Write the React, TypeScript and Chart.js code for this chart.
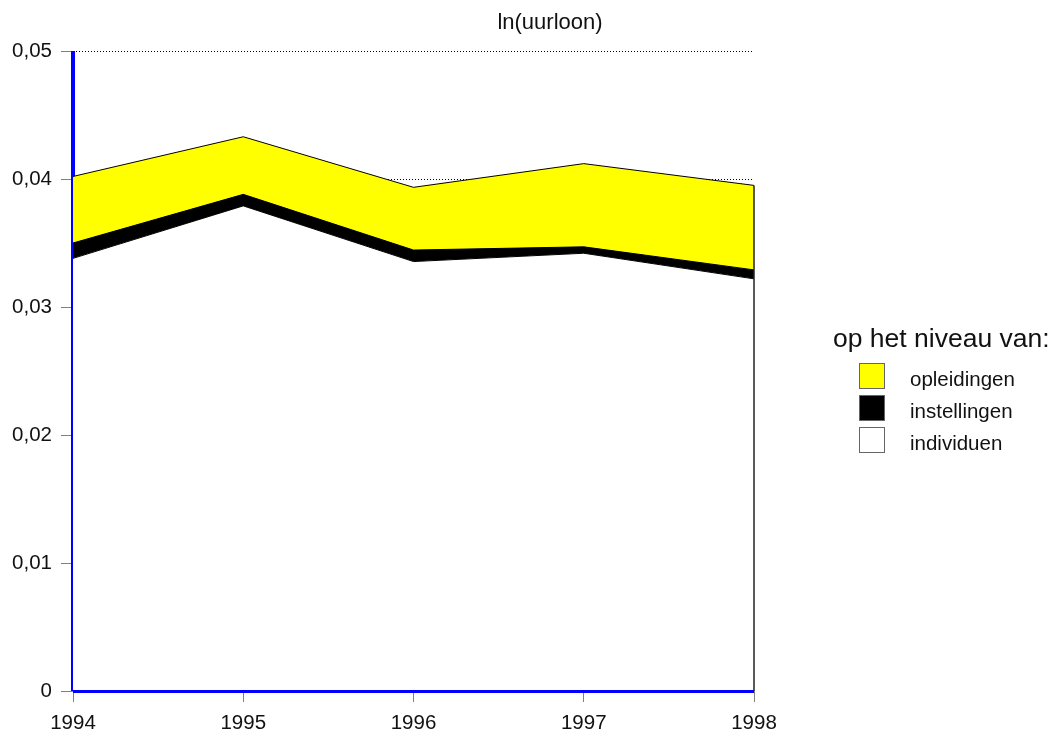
import React, { useEffect, useRef } from "react";
import { Chart, registerables } from "chart.js";

Chart.register(...registerables);

const years = ["1994", "1995", "1996", "1997", "1998"];
const individuen = [0.0338, 0.0379, 0.03355, 0.0342, 0.0322];
const instellingen = [0.0012, 0.0009, 0.0009, 0.0005, 0.0007];
const opleidingen = [0.0052, 0.0045, 0.0049, 0.0065, 0.0066];
const yMin = 0;
const yMax = 0.05;
const yStep = 0.01;

const chartTitle = "ln(uurloon)";
const legendTitle = "op het niveau van:";
const legendNames = ["opleidingen", "instellingen", "individuen"];
const legendColors = ["#ffff00", "#000000", "#ffffff"];

const FONT = "'Liberation Sans', Arial, sans-serif";

const W = 1054;
const H = 736;

const decorPlugin = {
  id: "decor",
  beforeDatasetsDraw(chart: any) {
    const { ctx, chartArea } = chart;
    ctx.save();
    ctx.strokeStyle = "#0000ff";
    ctx.lineWidth = 4;
    ctx.beginPath();
    ctx.moveTo(chartArea.left, chartArea.top);
    ctx.lineTo(chartArea.left, chartArea.bottom);
    ctx.stroke();
    ctx.restore();
  },
  afterDatasetsDraw(chart: any) {
    const { ctx, chartArea, scales } = chart;
    const xs = scales.x;
    const ys = scales.y;
    const last = years.length - 1;
    const topVal = individuen[last] + instellingen[last] + opleidingen[last];
    const x = xs.getPixelForValue(last);
    ctx.save();
    ctx.strokeStyle = "#222";
    ctx.lineWidth = 1.5;
    ctx.beginPath();
    ctx.moveTo(x, ys.getPixelForValue(topVal));
    ctx.lineTo(x, chartArea.bottom);
    ctx.stroke();
    ctx.strokeStyle = "#0000ff";
    ctx.lineWidth = 3;
    ctx.beginPath();
    ctx.moveTo(chartArea.left, chartArea.bottom + 0.5);
    ctx.lineTo(x, chartArea.bottom + 0.5);
    ctx.stroke();
    ctx.restore();
  },
  afterDraw(chart: any) {
    const { ctx } = chart;
    ctx.save();
    ctx.fillStyle = "#111";
    ctx.font = `22px ${FONT}`;
    ctx.textAlign = "center";
    ctx.textBaseline = "middle";
    ctx.fillText(chartTitle, 550, 23);
    ctx.restore();
  },
};

export default function App() {
  const canvasRef = useRef<HTMLCanvasElement | null>(null);

  useEffect(() => {
    const canvas = canvasRef.current;
    if (!canvas) return;
    const common = {
      pointRadius: 0,
      borderColor: "#000000",
      borderWidth: 1,
      tension: 0,
    };
    const chart = new Chart(canvas, {
      type: "line",
      data: {
        labels: years,
        datasets: [
          {
            label: legendNames[2],
            data: individuen,
            backgroundColor: legendColors[2],
            fill: "origin",
            ...common,
          },
          {
            label: legendNames[1],
            data: instellingen,
            backgroundColor: legendColors[1],
            fill: "-1",
            ...common,
          },
          {
            label: legendNames[0],
            data: opleidingen,
            backgroundColor: legendColors[0],
            fill: "-1",
            ...common,
          },
        ],
      },
      options: {
        responsive: false,
        animation: false,
        devicePixelRatio: 1,
        layout: { padding: { left: 0, top: 51, right: 300, bottom: 0 } },
        plugins: {
          legend: { display: false },
          title: { display: false },
          tooltip: { enabled: false },
        },
        scales: {
          x: {
            type: "category",
            offset: false,
            afterFit(scale: any) {
              scale.height = 45;
            },
            border: { display: false },
            grid: {
              display: true,
              drawOnChartArea: false,
              drawTicks: true,
              tickLength: 11,
              tickColor: "#808080",
              tickWidth: 1,
            },
            ticks: {
              color: "#111",
              font: { family: FONT, size: 20.5 },
              padding: 9,
              maxRotation: 0,
              autoSkip: false,
            },
          },
          y: {
            stacked: true,
            min: yMin,
            max: yMax,
            afterFit(scale: any) {
              scale.width = 73;
            },
            border: { display: false, dash: [1, 2], dashOffset: 0 },
            grid: {
              color: "#000000",
              lineWidth: 1,
              tickLength: 12,
              tickColor: "#808080",
              tickWidth: 1,
              tickBorderDash: [],
            } as any,
            ticks: {
              stepSize: yStep,
              color: "#111",
              font: { family: FONT, size: 20.5 },
              padding: 9,
              callback: (v: any) => {
                const n = Number(v);
                if (Math.abs(n) < 1e-9) return "0";
                return n.toFixed(2).replace(".", ",");
              },
            },
          },
        },
      } as any,
      plugins: [decorPlugin],
    });
    return () => chart.destroy();
  }, []);

  const legendTop = 363;
  const legendStep = 32;

  return (
    <div
      style={{
        position: "fixed",
        left: 0,
        top: 0,
        width: W,
        height: H,
        background: "#ffffff",
        fontFamily: FONT,
      }}
    >
      <canvas
        ref={canvasRef}
        width={W}
        height={H}
        style={{ position: "absolute", left: 0, top: 0, width: W, height: H }}
      />
      <div
        style={{
          position: "absolute",
          left: 833,
          top: 325,
          fontSize: 26.5,
          lineHeight: "26.5px",
          color: "#111",
          whiteSpace: "nowrap",
        }}
      >
        {legendTitle}
      </div>
      {legendNames.map((name, i) => (
        <React.Fragment key={name}>
          <div
            style={{
              position: "absolute",
              left: 859,
              top: legendTop + i * legendStep,
              width: 24,
              height: 24,
              background: legendColors[i],
              border: "1px solid #666",
            }}
          />
          <div
            style={{
              position: "absolute",
              left: 910,
              top: 368.5 + i * legendStep,
              fontSize: 20.5,
              lineHeight: "20.5px",
              color: "#111",
              whiteSpace: "nowrap",
            }}
          >
            {name}
          </div>
        </React.Fragment>
      ))}
    </div>
  );
}
